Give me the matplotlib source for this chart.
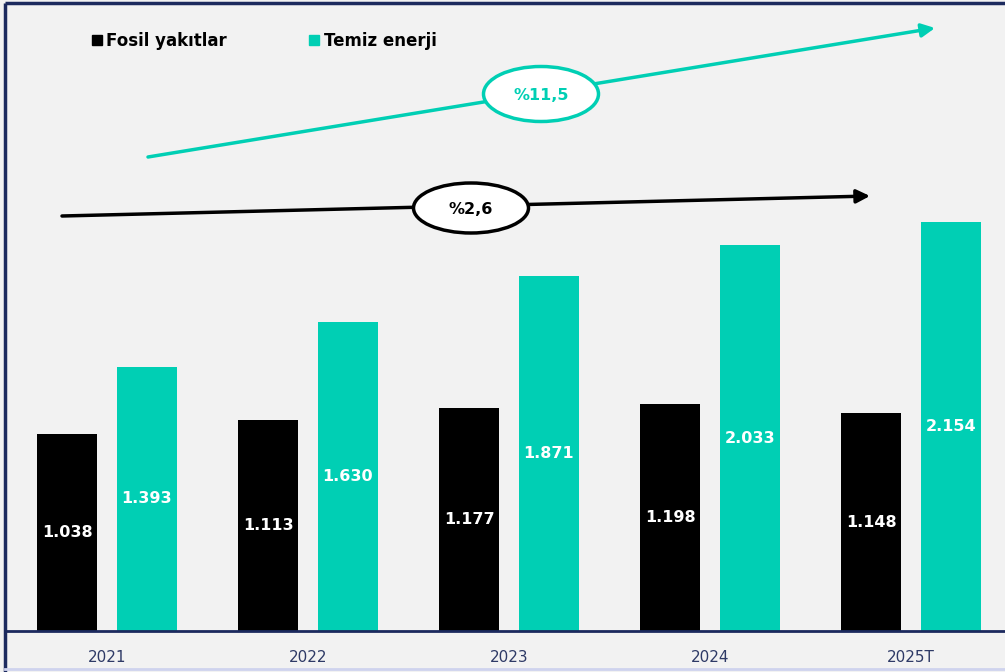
import matplotlib
matplotlib.use("Agg")
import matplotlib.pyplot as plt
from matplotlib.patches import Ellipse, Patch
import numpy as np

years = ["2021", "2022", "2023", "2024", "2025T"]
fosil = [1.038, 1.113, 1.177, 1.198, 1.148]
temiz = [1.393, 1.630, 1.871, 2.033, 2.154]
fosil_labels = ["1.038", "1.113", "1.177", "1.198", "1.148"]
temiz_labels = ["1.393", "1.630", "1.871", "2.033", "2.154"]
series_names = ["Fosil yakıtlar", "Temiz enerji"]
growth_labels = ["%11,5", "%2,6"]

BG = "#f2f2f2"
TEAL = "#00cfb4"
BLACK = "#000000"
NAVY = "#1c2a5e"
YEARC = "#2e3a66"

W, H = 1005, 672
fig = plt.figure(figsize=(W / 100, H / 100), dpi=100, facecolor=BG)
plt.rcParams['font.family'] = ['DejaVu Sans']

# main bar axes: pixel region x 5..1005, y 3..631
ax = fig.add_axes([5 / W, (H - 631) / H, 1000 / W, (631 - 3) / H])
ax.set_facecolor("none")
x = np.arange(len(years))
off = 0.199
bw = 0.303
ax.bar(x - off, fosil, bw, color=BLACK, zorder=2)
ax.bar(x + off, temiz, bw, color=TEAL, zorder=2)
for xi, v, lab in zip(x, fosil, fosil_labels):
    ax.text(xi - off, v / 2, lab, ha="center", va="center", color="white",
            fontsize=11.5, fontweight="bold", zorder=3)
for xi, v, lab in zip(x, temiz, temiz_labels):
    ax.text(xi + off, v / 2, lab, ha="center", va="center", color="white",
            fontsize=11.5, fontweight="bold", zorder=3)

ax.set_xlim((5 - 107) / 201, (1005 - 107) / 201)
ax.set_ylim(0, (631 - 3) / 189.8)
ax.set_xticks(x)
ax.set_xticklabels(years, color=YEARC, fontsize=11)
ax.tick_params(axis="x", length=0, pad=14)
ax.set_yticks([])
for s in ["top", "right", "left"]:
    ax.spines[s].set_visible(False)
ax.spines["bottom"].set_color(NAVY)
ax.spines["bottom"].set_linewidth(2)

# overlay for annotations (pixel coordinates)
ov = fig.add_axes([0, 0, 1, 1], zorder=5)
ov.set_xlim(0, W)
ov.set_ylim(H, 0)
ov.axis("off")
ov.patch.set_alpha(0)

# border lines
ov.plot([5, W], [3, 3], color=NAVY, lw=2.5, solid_capstyle="butt")
ov.plot([5, 5], [3, H], color=NAVY, lw=2.5, solid_capstyle="butt")
ov.plot([5, W], [669, 669], color="#cfd3ee", lw=2)

# growth arrows
ov.annotate("", xy=(935, 28), xytext=(148, 157),
            arrowprops=dict(arrowstyle="-|>", color=TEAL, lw=2.5, mutation_scale=20,
                            shrinkA=0, shrinkB=0))
ov.add_patch(Ellipse((541, 94), 115, 55, fc="white", ec=TEAL, lw=2.5, zorder=4))
ov.text(541, 95, growth_labels[0], ha="center", va="center", color=TEAL,
        fontsize=11.5, fontweight="bold", zorder=5)

ov.annotate("", xy=(870, 196), xytext=(62, 216),
            arrowprops=dict(arrowstyle="-|>", color=BLACK, lw=2.5, mutation_scale=20,
                            shrinkA=0, shrinkB=0))
ov.add_patch(Ellipse((471, 208), 115, 50, fc="white", ec=BLACK, lw=2.5, zorder=4))
ov.text(471, 209, growth_labels[1], ha="center", va="center", color=BLACK,
        fontsize=11.5, fontweight="bold", zorder=5)

handles = [Patch(color=BLACK), Patch(color=TEAL)]
fig.legend(handles, series_names, loc="center left", bbox_to_anchor=(77 / W, 1 - 41 / H),
           ncol=2, frameon=False, handlelength=0.6, handleheight=0.6, handletextpad=0.25,
           columnspacing=4.95, prop={"weight": "bold", "size": 12})

fig.savefig("out.png", dpi=100, facecolor=BG)
